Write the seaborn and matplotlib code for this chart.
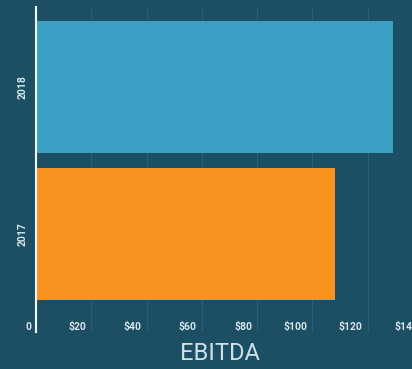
import matplotlib
matplotlib.use("Agg")
import matplotlib.pyplot as plt
import matplotlib.transforms as mtransforms
import seaborn as sns
import pandas as pd

years = ["2018", "2017"]
ebitda = [129, 108]
bar_colors = ["#3b9ec4", "#f7931e"]
xticks = [0, 20, 40, 60, 80, 100, 120, 140]
xtick_labels = ["0", "$20", "$40", "$60", "$80", "$100", "$120", "$140"]

bg = "#1c4e64"
sns.set_theme(style="dark")
plt.rcParams["font.family"] = ["Roboto", "DejaVu Sans"]

df = pd.DataFrame({"year": years, "ebitda": ebitda})

fig = plt.figure(figsize=(4.12, 3.69), dpi=100, facecolor=bg)
ax = fig.add_axes([36 / 412, 37 / 369, 387 / 412, 325 / 369])
ax.set_facecolor(bg)

sns.barplot(data=df, x="ebitda", y="year", hue="year", order=years,
            palette=dict(zip(years, bar_colors)), orient="h", width=0.9,
            legend=False, ax=ax, saturation=1, zorder=3,
            edgecolor="none", linewidth=0)

ax.set_xlim(0, 140)
ax.set_ylim(1.667, -0.544)
ax.set_xticks(xticks)
ax.set_xticklabels(xtick_labels)
ax.xaxis.grid(True, color="#28607a", linewidth=0.8, zorder=0)
ax.yaxis.grid(False)
ax.tick_params(axis="x", colors="#d9e6ec", labelsize=7.5, length=0, pad=-7.5)
for lbl in ax.get_xticklabels():
    lbl.set_horizontalalignment("right")
    lbl.set_fontweight("bold")
    lbl.set_transform(lbl.get_transform() + mtransforms.ScaledTranslation(-5 / 100, 0, fig.dpi_scale_trans))
ax.tick_params(axis="y", colors="#d9e6ec", labelsize=7.5, length=0, pad=6)
for lbl in ax.get_yticklabels():
    lbl.set_rotation(90)
    lbl.set_verticalalignment("center")
    lbl.set_fontweight("bold")

for s in ["top", "right", "bottom"]:
    ax.spines[s].set_visible(False)
ax.spines["left"].set_color("#f2f6f8")
ax.spines["left"].set_linewidth(1.5)
ax.spines["left"].set_zorder(5)

ax.set_ylabel("")
ax.set_xlabel("EBITDA", color="#cfe0e7", fontsize=17, fontweight="normal")
ax.xaxis.label.set_verticalalignment("center")
ax.xaxis.set_label_coords((220 - 36) / 387, -21 / 325)

fig.savefig("out.png", dpi=100, facecolor=bg)
